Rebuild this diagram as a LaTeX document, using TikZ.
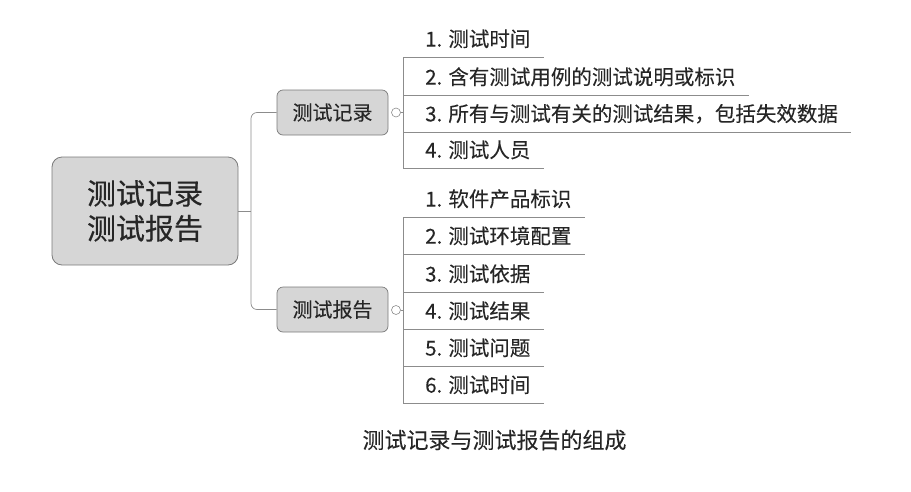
\documentclass[tikz,border=0pt]{standalone}
\usepackage{fontspec}
\setmainfont{Noto Sans CJK SC}
\newfontfamily\heavyfont[FakeBold=0.4]{Noto Sans CJK SC}
\newfontfamily\midfont[FakeBold=0.15]{Noto Sans CJK SC}
\definecolor{boxfill}{HTML}{D6D6D6}
\definecolor{boxline}{HTML}{7A7A7A}
\definecolor{lineclr}{HTML}{8C8C8C}
\definecolor{txt}{HTML}{262626}
\begin{document}
\begin{tikzpicture}[x=1pt,y=-1pt,
  mainbox/.style={draw=boxline, fill=boxfill, rounded corners=10pt, line width=0.8pt,
    minimum width=186pt, minimum height=108pt, align=center, text=txt,
    font=\heavyfont\fontsize{29}{35}\selectfont},
  branchbox/.style={draw=boxline, fill=boxfill, rounded corners=6pt, line width=0.7pt,
    minimum width=111pt, minimum height=45pt, text=txt, font=\midfont\fontsize{20}{24}\selectfont},
  leaf/.style={anchor=south west, inner xsep=0pt, inner ysep=0pt, minimum height=36pt,
    text=txt, font=\midfont\fontsize{20.5}{24}\selectfont},
  sep/.style={draw=lineclr, line width=0.6pt},
  conn/.style={draw=lineclr, line width=0.7pt},
  knob/.style={circle, draw=lineclr, line width=0.6pt, fill=white, inner sep=0pt, minimum size=9pt},
  caption/.style={text=txt, font=\midfont\fontsize{22}{26}\selectfont}
]
\useasboundingbox (0,0) rectangle (911,491);

% root
\node[mainbox] (main) at (145,211) {测试记录\\测试报告};

% branches
\node[branchbox] (b1) at (332.5,112.5) {测试记录};
\node[branchbox] (b2) at (332.5,309.5) {测试报告};

\coordinate (hub) at (251,211);
\draw[conn, rounded corners=6pt] (b1.west) -| (hub) |- (b2.west);
\draw[conn] (main.east) -- (hub);

% collapse knobs
\node[knob] (k1) at (396,112.5) {};
\node[knob] (k2) at (396,310) {};
\coordinate (v) at (403,0);

% leaves of group 1
\node[leaf] (a1) at (425,57) {1. 测试时间};
\node[leaf] (a2) at (425,95) {2. 含有测试用例的测试说明或标识};
\node[leaf] (a3) at (425,132) {3. 所有与测试有关的测试结果，包括失效数据};
\node[leaf] (a4) at (425,168) {4. 测试人员};
\draw[sep] (a1.south -| v) -- (a4.south -| v);
\foreach \n in {a1,a2,a3,a4}
  \draw[sep] (\n.south -| v) -- ([xshift=13pt]\n.south east);
\draw[sep] (k1.east) -- (k1.east -| v);

% leaves of group 2
\node[leaf] (c1) at (425,217) {1. 软件产品标识};
\node[leaf] (c2) at (425,254) {2. 测试环境配置};
\node[leaf] (c3) at (425,292) {3. 测试依据};
\node[leaf] (c4) at (425,329) {4. 测试结果};
\node[leaf] (c5) at (425,366) {5. 测试问题};
\node[leaf] (c6) at (425,403) {6. 测试时间};
\draw[sep] (c1.south -| v) -- (c6.south -| v);
\foreach \n in {c1,c2,c3,c4,c5,c6}
  \draw[sep] (\n.south -| v) -- ([xshift=13pt]\n.south east);
\draw[sep] (k2.east) -- (k2.east -| v);

% caption
\node[caption] (cap) at (494.5,440) {测试记录与测试报告的组成};
\end{tikzpicture}
\end{document}
